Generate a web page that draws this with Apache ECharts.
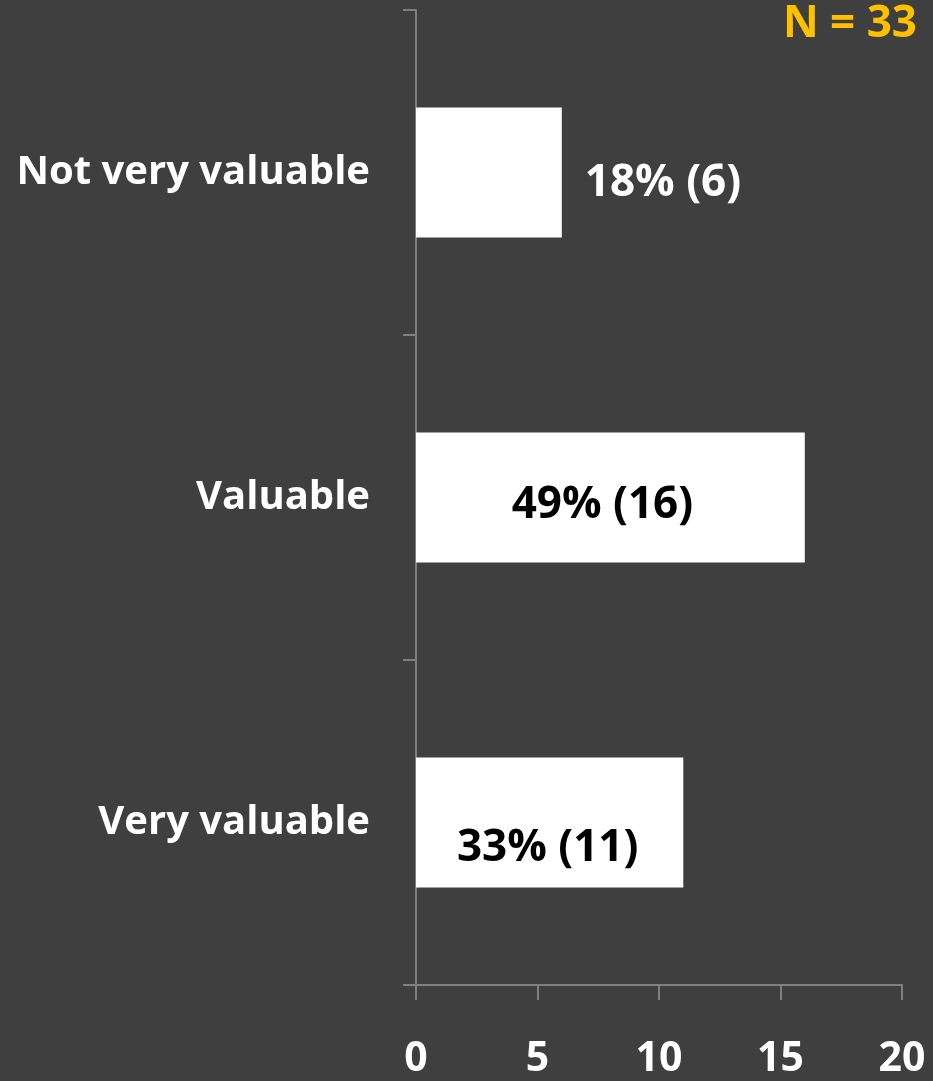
<!DOCTYPE html>
<html>
<head>
<meta charset="utf-8">
<script src="https://cdn.jsdelivr.net/npm/echarts@6/dist/echarts.min.js"></script>
<style>
  html, body { margin: 0; padding: 0; background: #3f3f3f; }
  #chart { width: 933px; height: 1081px; }
</style>
</head>
<body>
<div id="chart"></div>
<script>
// Survey responses: how valuable respondents found it
const categories = ['Not very valuable', 'Valuable', 'Very valuable'];
const counts = [6, 16, 11];
const percents = [18, 49, 33];
const xTicks = { min: 0, max: 20, interval: 5 };
const sampleSize = 33;

const FONT = '"Open Sans", "Liberation Sans", sans-serif';
const AXIS_COLOR = '#7f7f7f';

// Label placement per bar: small bar gets its label outside, others inside
const labelPlacement = [
  { position: 'right', distance: 23, color: '#ffffff', offset: [0, 11] },
  { position: 'inside', color: '#000000', offset: [-8, 8] },
  { position: 'inside', color: '#000000', offset: [-2, 26] }
];

const seriesData = counts.map((v, i) => ({
  value: v,
  label: Object.assign({
    show: true,
    formatter: percents[i] + '% (' + v + ')',
    fontFamily: FONT,
    fontWeight: 'bold',
    fontSize: 44
  }, labelPlacement[i])
}));

const chart = echarts.init(document.getElementById('chart'));
chart.setOption({
  backgroundColor: '#3f3f3f',
  animation: false,
  title: {
    text: 'N = ' + sampleSize,
    right: 16,
    top: 2,
    padding: 0,
    textStyle: { color: '#ffc000', fontFamily: FONT, fontWeight: 'bold', fontSize: 44 }
  },
  grid: { left: 416, right: 31, top: 10, bottom: 96, containLabel: false },
  xAxis: {
    type: 'value',
    min: xTicks.min,
    max: xTicks.max,
    interval: xTicks.interval,
    splitLine: { show: false },
    axisLine: { show: true, lineStyle: { color: AXIS_COLOR, width: 2 } },
    axisTick: { show: true, length: 15, lineStyle: { color: AXIS_COLOR, width: 2 } },
    axisLabel: { color: '#ffffff', fontFamily: FONT, fontWeight: 'bold', fontSize: 41, margin: 54 }
  },
  yAxis: {
    type: 'category',
    data: categories,
    inverse: true,
    axisLine: { show: true, lineStyle: { color: AXIS_COLOR, width: 2 } },
    axisTick: { show: true, length: 13, alignWithLabel: false, lineStyle: { color: AXIS_COLOR, width: 2 } },
    axisLabel: { color: '#ffffff', fontFamily: FONT, fontWeight: 'bold', fontSize: 40, margin: 46 }
  },
  series: [{
    type: 'bar',
    data: seriesData,
    barWidth: '40%',
    itemStyle: { color: '#ffffff' }
  }]
});
</script>
</body>
</html>
